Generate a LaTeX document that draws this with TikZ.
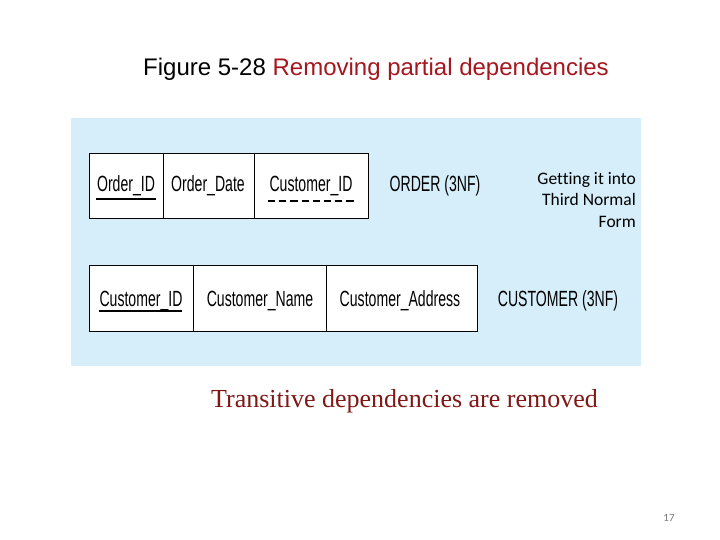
\documentclass[tikz,border=0pt]{standalone}
\usepackage{fontspec}
\setmainfont{Liberation Sans}
\newfontfamily\narrowfont[FakeStretch=0.64]{Liberation Sans}
\newfontfamily\serifont{Liberation Serif}
\newfontfamily\califont[Ligatures=NoCommon]{Carlito}
\definecolor{panelblue}{RGB}{213,238,250}
\definecolor{titlered}{RGB}{165,22,30}
\definecolor{subred}{RGB}{128,24,24}
\definecolor{pagegray}{RGB}{120,120,120}
\begin{document}
\begin{tikzpicture}[x=1pt,y=-1pt,
  cell/.style={draw=black,line width=1.2pt,fill=white,inner sep=0pt,minimum height=65pt,anchor=north west},
  attr/.style={font=\narrowfont\fontsize{22}{24}\selectfont,anchor=base,inner sep=0pt},
  key/.style={line width=1.2pt},
  fkey/.style={line width=1.2pt,dash pattern=on 7.2pt off 4pt}]
\useasboundingbox (0,0) rectangle (720,540);
\fill[white] (0,0) rectangle (720,540);
% title
\node[anchor=base west,inner sep=0pt,font=\fontsize{24}{28}\selectfont] (title) at (143,76)
  {Figure 5-28 \textcolor{titlered}{Removing partial dependencies}};
% panel
\node[fill=panelblue,inner sep=0pt,minimum width=570pt,minimum height=248pt,anchor=north west] (panel) at (71,118) {};
% ORDER table
\node[cell,minimum width=74pt] (o1) at (89,153) {};
\node[cell,minimum width=91pt] (o2) at (163,153) {};
\node[cell,minimum width=114pt] (o3) at (254,153) {};
\node[attr] (t1) at (126,192) {Order\_ID};
\node[attr] (t2) at (208,192) {Order\_Date};
\node[attr] (t3) at (311,192) {Customer\_ID};
\coordinate (u1a) at (96,199); \coordinate (u1b) at (156,199);
\draw[key] (u1a) -- (u1b);
\coordinate (u2a) at (268,201); \coordinate (u2b) at (354,201);
\draw[fkey] (u2a) -- (u2b);
\node[attr] (ordname) at (435,192) {ORDER (3NF)};
% CUSTOMER table
\node[cell,minimum width=104pt,minimum height=66pt] (c1) at (89,265) {};
\node[cell,minimum width=133pt,minimum height=66pt] (c2) at (193,265) {};
\node[cell,minimum width=151pt,minimum height=66pt] (c3) at (326,265) {};
\node[attr] (s1) at (141,306) {Customer\_ID};
\node[attr] (s2) at (260,306) {Customer\_Name};
\node[attr] (s3) at (400,306) {Customer\_Address};
\coordinate (u3a) at (99,311); \coordinate (u3b) at (182,311);
\draw[key] (u3a) -- (u3b);
\node[attr] (custname) at (558,306) {CUSTOMER (3NF)};
% side note
\node[anchor=base east,align=right,inner sep=0pt,font=\califont\fontsize{17.5}{21.5}\selectfont] (note) at (636,227)
  {Getting it into\\Third Normal\\Form};
% subtitle
\node[anchor=base,inner sep=0pt,font=\serifont\fontsize{26}{30}\selectfont,text=subred] (sub) at (404.5,407)
  {Transitive dependencies are removed};
% page number
\node[anchor=base,inner sep=0pt,font=\califont\fontsize{11}{13}\selectfont,text=pagegray] (page) at (669,521) {17};
\end{tikzpicture}
\end{document}
